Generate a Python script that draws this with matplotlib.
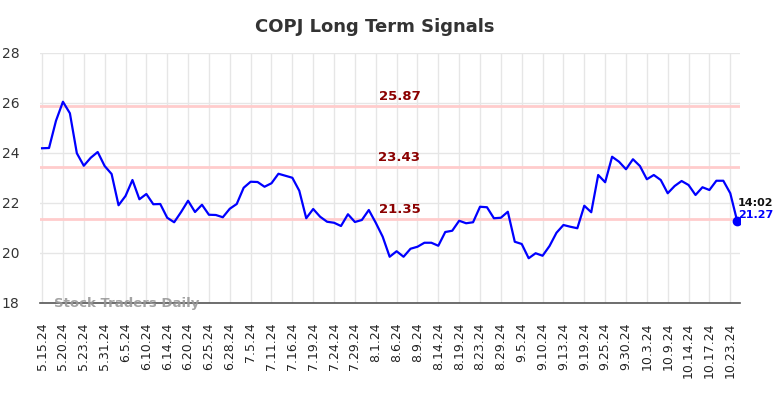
import matplotlib
matplotlib.use("Agg")
import matplotlib.pyplot as plt
import numpy as np

tick_labels = ["5.15.24", "5.20.24", "5.23.24", "5.31.24", "6.5.24", "6.10.24", "6.14.24",
               "6.20.24", "6.25.24", "6.28.24", "7.5.24", "7.11.24", "7.16.24", "7.19.24",
               "7.24.24", "7.29.24", "8.1.24", "8.6.24", "8.9.24", "8.14.24", "8.19.24",
               "8.23.24", "8.29.24", "9.5.24", "9.10.24", "9.13.24", "9.19.24", "9.25.24",
               "9.30.24", "10.3.24", "10.9.24", "10.14.24", "10.17.24", "10.23.24"]

prices = [24.19, 24.20, 25.29, 26.05, 25.59, 23.99, 23.49, 23.81, 24.04, 23.48,
          23.16, 21.91, 22.28, 22.92, 22.15, 22.36, 21.95, 21.96, 21.41, 21.23,
          21.64, 22.09, 21.64, 21.93, 21.53, 21.52, 21.43, 21.77, 21.96, 22.61,
          22.85, 22.84, 22.65, 22.79, 23.17, 23.09, 23.01, 22.49, 21.39, 21.76,
          21.45, 21.25, 21.21, 21.08, 21.55, 21.24, 21.32, 21.72, 21.21, 20.65,
          19.85, 20.07, 19.85, 20.17, 20.25, 20.41, 20.41, 20.29, 20.84, 20.89,
          21.29, 21.19, 21.23, 21.85, 21.83, 21.39, 21.41, 21.65, 20.45, 20.36,
          19.79, 19.99, 19.89, 20.28, 20.81, 21.12, 21.05, 20.99, 21.89, 21.63,
          23.12, 22.83, 23.85, 23.65, 23.35, 23.75, 23.48, 22.95, 23.12, 22.92,
          22.39, 22.68, 22.88, 22.72, 22.32, 22.63, 22.52, 22.89, 22.89, 22.39,
          21.27]

levels = [25.87, 23.43, 21.35]
last_time = "14:02"
tick_step = 3

x = np.arange(len(prices))

fig = plt.figure(figsize=(7.84, 3.98), dpi=100)
ax = fig.add_axes([40/784, 1-303/398, 700/784, 250/398])

ax.set_xlim(-0.3, 100.4)
ax.set_ylim(18, 28)
ax.set_yticks(np.arange(18, 29, 2))
ax.set_xticks(np.arange(0, len(tick_labels)*tick_step, tick_step))
ax.set_xticklabels(tick_labels, rotation=90, fontsize=9, color="#222222")
ax.tick_params(axis="x", length=0, pad=14)
ax.tick_params(axis="y", length=0, pad=15, labelsize=10, labelcolor="#333333")

ax.grid(True, color="#e6e6e6", linewidth=1)
ax.set_axisbelow(True)
for s in ["top", "right", "left"]:
    ax.spines[s].set_visible(False)
ax.spines["bottom"].set_color("#555555")
ax.spines["bottom"].set_linewidth(1.2)

for lv in levels:
    ax.axhline(lv, color="#ffcccc", linewidth=2, zorder=1)
    ax.text(51.4, lv + 0.12, f"{lv:.2f}", color="#8b0000", fontsize=9.5,
            fontweight="bold", ha="center", va="bottom")

ax.plot(x, prices, color="#0000ff", linewidth=1.6, zorder=3)
ax.plot(x[-1], prices[-1], "o", color="#0000ff", markersize=6, zorder=4)

ax.text(x[-1] + 0.1, prices[-1] + 0.73, last_time, color="#111111", fontsize=8,
        fontweight="bold", ha="left", va="center")
ax.text(x[-1] + 0.1, prices[-1] + 0.25, f"{prices[-1]:.2f}", color="#0000ff", fontsize=8,
        fontweight="bold", ha="left", va="center")

ax.text(1.7, 18.0, "Stock Traders Daily", color="#999999", fontsize=9.5,
        fontweight="bold", ha="left", va="center", alpha=0.9, zorder=5)

fig.text(375/784, 1-27/398, "COPJ Long Term Signals", ha="center", va="center",
         fontsize=13, fontweight="bold", color="#333333")

fig.savefig("out.png", dpi=100)
